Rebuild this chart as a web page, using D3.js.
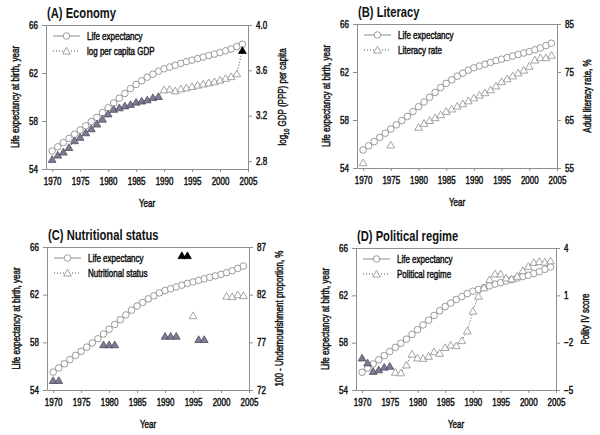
<!DOCTYPE html>
<html><head><meta charset="utf-8">
<script src="https://cdn.jsdelivr.net/npm/d3@7"></script>
<style>
body{margin:0;background:#fff;}
svg{font-family:"Liberation Sans",Arial,sans-serif;}
</style></head>
<body><svg id="c" width="600" height="435"></svg>
<script>
// ---------- data ----------
const years = [1970,1971,1972,1973,1974,1975,1976,1977,1978,1979,1980,1981,1982,1983,1984,1985,1986,1987,1988,1989,1990,1991,1992,1993,1994,1995,1996,1997,1998,1999,2000,2001,2002,2003,2004];
const lifeExp = [55.5,55.85,56.2,56.55,56.9,57.25,57.6,57.95,58.3,58.7,59.1,59.5,59.9,60.3,60.7,61.05,61.35,61.65,61.9,62.15,62.35,62.5,62.65,62.8,62.95,63.07,63.2,63.33,63.46,63.58,63.7,63.85,64.0,64.2,64.4];

const gdpVals = [2.815,2.853,2.88,2.92,2.98,3.01,3.05,3.085,3.127,3.17,3.216,3.257,3.27,3.287,3.30,3.32,3.33,3.34,3.36,3.37,3.428,3.434,3.42,3.437,3.446,3.458,3.47,3.48,3.49,3.50,3.514,3.53,3.545,3.57,3.776];
const gdpType = ["g","g","g","g","g","g","g","g","g","g","g","g","g","g","g","g","g","g","g","g","o","o","o","o","o","o","o","o","o","o","o","o","o","o","k"];

const litYears = [1970,1975,1980,1981,1982,1983,1984,1985,1986,1987,1988,1989,1990,1991,1992,1993,1994,1995,1996,1997,1998,1999,2000,2001,2002,2003,2004];
const litVals = [56.1,59.8,63.5,64.3,64.9,65.5,66.1,66.8,67.3,67.9,68.4,69.0,69.6,70.2,70.7,71.3,72.1,73.0,73.6,74.2,74.8,75.4,76.2,77.5,78.0,78.0,78.5];

const nutYears = [1970,1971,1979,1980,1981,1990,1991,1992,1993,1994,1995,1996,1997,2001,2002,2003,2004];
const nutVals = [73.0,73.0,76.75,76.75,76.75,77.65,77.65,77.65,86.1,86.1,79.8,77.3,77.3,81.85,81.8,82.0,81.9];
const nutType = ["g","g","g","g","g","g","g","g","k","k","o","g","g","o","o","o","o"];

const polVals = [-2.97,-3.28,-3.82,-3.72,-3.55,-3.49,-3.87,-3.91,-3.41,-2.72,-2.97,-2.99,-2.86,-2.57,-2.67,-2.30,-2.15,-2.19,-1.87,-1.25,0.0,0.95,1.48,2.0,2.36,2.36,2.1,2.04,2.21,2.57,2.84,3.09,3.15,3.11,3.19];
const polType = ["g","g","g","g","g","g","o","o","o","o","o","o","o","o","o","o","o","o","o","o","o","o","o","o","o","o","o","o","o","o","o","o","o","o","o"];

const leftTicks = [54,58,62,66];
const xTicks = [1970,1975,1980,1985,1990,1995,2000,2005];

const titles = ["(A) Economy","(B) Literacy","(C) Nutritional status","(D) Political regime"];
const legend2 = ["log per capita GDP","Literacy rate","Nutritional status","Political regime"];
const rightTicks = [[2.8,3.2,3.6,4.0],[55,65,75,85],[72,77,82,87],[-5,-2,1,4]];
const rightDomains = [[2.73,4.0],[55,85],[72,87],[-5,4]];
const rightTickFmt = [d3.format(".1f"), d3.format("d"), d3.format("d"), d3.format("d")];

// ---------- layout ----------
const panels = [
  {l:46,r:248,t:25,b:169,ro:38},
  {l:357,r:557,t:24,b:168,ro:34},
  {l:47,r:249,t:247,b:390,ro:34},
  {l:356,r:556,t:248,b:390,ro:33}
];
const series2 = [
  {x:years, y:gdpVals, type:gdpType, line:true},
  {x:litYears, y:litVals, type:litYears.map(()=>"o"), line:false},
  {x:nutYears, y:nutVals, type:nutType, line:false},
  {x:years, y:polVals, type:polType, line:true}
];

const SX = 0.8; // horizontal condensing of text
const svg = d3.select("#c");
const grey = "#8e8e8e";
const fills = {g:"#7c7c93", o:"#ffffff", k:"#000000"};
const strokes = {g:"#4d4d5e", o:"#8e8e8e", k:"#000000"};
const tri = d3.symbol(d3.symbolTriangle).size(26);

function txt(sel, size, bold){
  sel.attr("font-size",size+"px").attr("font-weight",bold?"bold":"normal")
     .attr("fill","#111").attr("stroke","#111").attr("stroke-width",bold?0:0.45);
  return sel;
}
function label(g, x, y, s, size, bold, anchor, rot){
  const t = g.append("text")
    .attr("transform",`translate(${x},${y})${rot?" rotate(-90)":""} scale(${SX},1)`)
    .attr("text-anchor",anchor||"start").text(s);
  txt(t,size,bold);
  return t;
}

panels.forEach((p,i)=>{
  const g = svg.append("g");
  const x = d3.scaleLinear().domain([1968.9,2005]).range([p.l,p.r]);
  const yL = d3.scaleLinear().domain([54,66]).range([p.b,p.t]);
  const yR = d3.scaleLinear().domain(rightDomains[i]).range([p.b,p.t]);

  g.append("line").attr("x1",p.l).attr("x2",p.r).attr("y1",p.t+0.5).attr("y2",p.t+0.5)
    .attr("stroke",grey).attr("stroke-width",1);

  const styleAxis = (sel)=>{
    sel.select(".domain").attr("stroke",grey);
    sel.selectAll(".tick line").attr("stroke",grey);
    sel.selectAll(".tick text").each(function(){
      const t = d3.select(this);
      const xv = +t.attr("x") || 0;
      t.attr("x", xv/SX).attr("transform",`scale(${SX},1)`);
      txt(t,10,false).attr("font-family","'Liberation Sans',Arial,sans-serif");
    });
  };
  g.append("g").attr("transform",`translate(${p.l},0)`)
    .call(d3.axisLeft(yL).tickValues(leftTicks).tickSize(4).tickSizeOuter(0).tickPadding(4))
    .call(styleAxis);
  g.append("g").attr("transform",`translate(${p.r},0)`)
    .call(d3.axisRight(yR).tickValues(rightTicks[i]).tickFormat(rightTickFmt[i]).tickSize(4).tickSizeOuter(0).tickPadding(4))
    .call(styleAxis);
  g.append("g").attr("transform",`translate(0,${p.b})`)
    .call(d3.axisBottom(x).tickValues(xTicks).tickFormat(d3.format("d")).tickSize(3).tickSizeOuter(0).tickPadding(6))
    .call(styleAxis);

  // title
  label(g, p.l+1, p.t-7, titles[i], 14, true, "start", false);

  // axis titles
  const cy = (p.t+p.b)/2;
  label(g, p.l-27.5, cy, "Life expectancy at birth, year", 10, false, "middle", true);
  const rt = g.append("text").attr("transform",`translate(${p.r+p.ro},${cy}) rotate(-90) scale(${SX},1)`).attr("text-anchor","middle");
  txt(rt,10,false);
  if(i===0){
    rt.append("tspan").text("log");
    rt.append("tspan").text("10").attr("font-size","7px").attr("dy","3");
    rt.append("tspan").text(" GDP (PPP) per capita").attr("dy","-3");
  } else if(i===1){ rt.text("Adult literacy rate, %"); }
  else if(i===2){ rt.text("100 - Undernourishment proportion, %"); }
  else { rt.text("Polity IV score"); }
  label(g, (p.l+p.r)/2, p.b+38, "Year", 10, false, "middle", false);

  // second series (triangles)
  const s = series2[i];
  const pts = s.x.map((xx,j)=>({x:xx,y:s.y[j],t:s.type[j]}));
  if(s.line){
    g.append("path").datum(pts).attr("fill","none").attr("stroke","#555").attr("stroke-width",1)
      .attr("stroke-dasharray","1,2")
      .attr("d",d3.line().x(d=>x(d.x)).y(d=>yR(d.y)));
  }
  // life expectancy
  const lpts = years.map((yy,j)=>({x:yy,y:lifeExp[j]}));
  g.append("path").datum(lpts).attr("fill","none").attr("stroke",grey).attr("stroke-width",1)
    .attr("d",d3.line().x(d=>x(d.x)).y(d=>yL(d.y)));
  g.selectAll(".le").data(lpts).join("circle").attr("cx",d=>x(d.x)).attr("cy",d=>yL(d.y)).attr("r",3.3)
    .attr("fill","#fff").attr("stroke",grey).attr("stroke-width",0.9);

  g.selectAll(".tr").data(pts).join("path")
    .attr("transform",d=>`translate(${x(d.x)},${yR(d.y)+0.8})`).attr("d",tri)
    .attr("fill",d=>fills[d.t]).attr("stroke",d=>strokes[d.t]).attr("stroke-width",0.8);

  // legend
  const lx1 = p.l+7, lx2 = p.l+34, r1 = p.t+11, r2 = p.t+26;
  g.append("line").attr("x1",lx1).attr("x2",lx2).attr("y1",r1).attr("y2",r1).attr("stroke",grey);
  g.append("circle").attr("cx",(lx1+lx2)/2).attr("cy",r1).attr("r",3.3).attr("fill","#fff").attr("stroke",grey).attr("stroke-width",0.9);
  label(g, p.l+41, r1+3.5, "Life expectancy", 10, false, "start", false);
  g.append("line").attr("x1",lx1).attr("x2",lx2).attr("y1",r2).attr("y2",r2).attr("stroke","#555").attr("stroke-dasharray","1,2");
  g.append("path").attr("transform",`translate(${(lx1+lx2)/2},${r2+0.8})`).attr("d",tri).attr("fill","#fff").attr("stroke",grey).attr("stroke-width",0.8);
  label(g, p.l+41, r2+3.5, legend2[i], 10, false, "start", false);
});
</script></body></html>
